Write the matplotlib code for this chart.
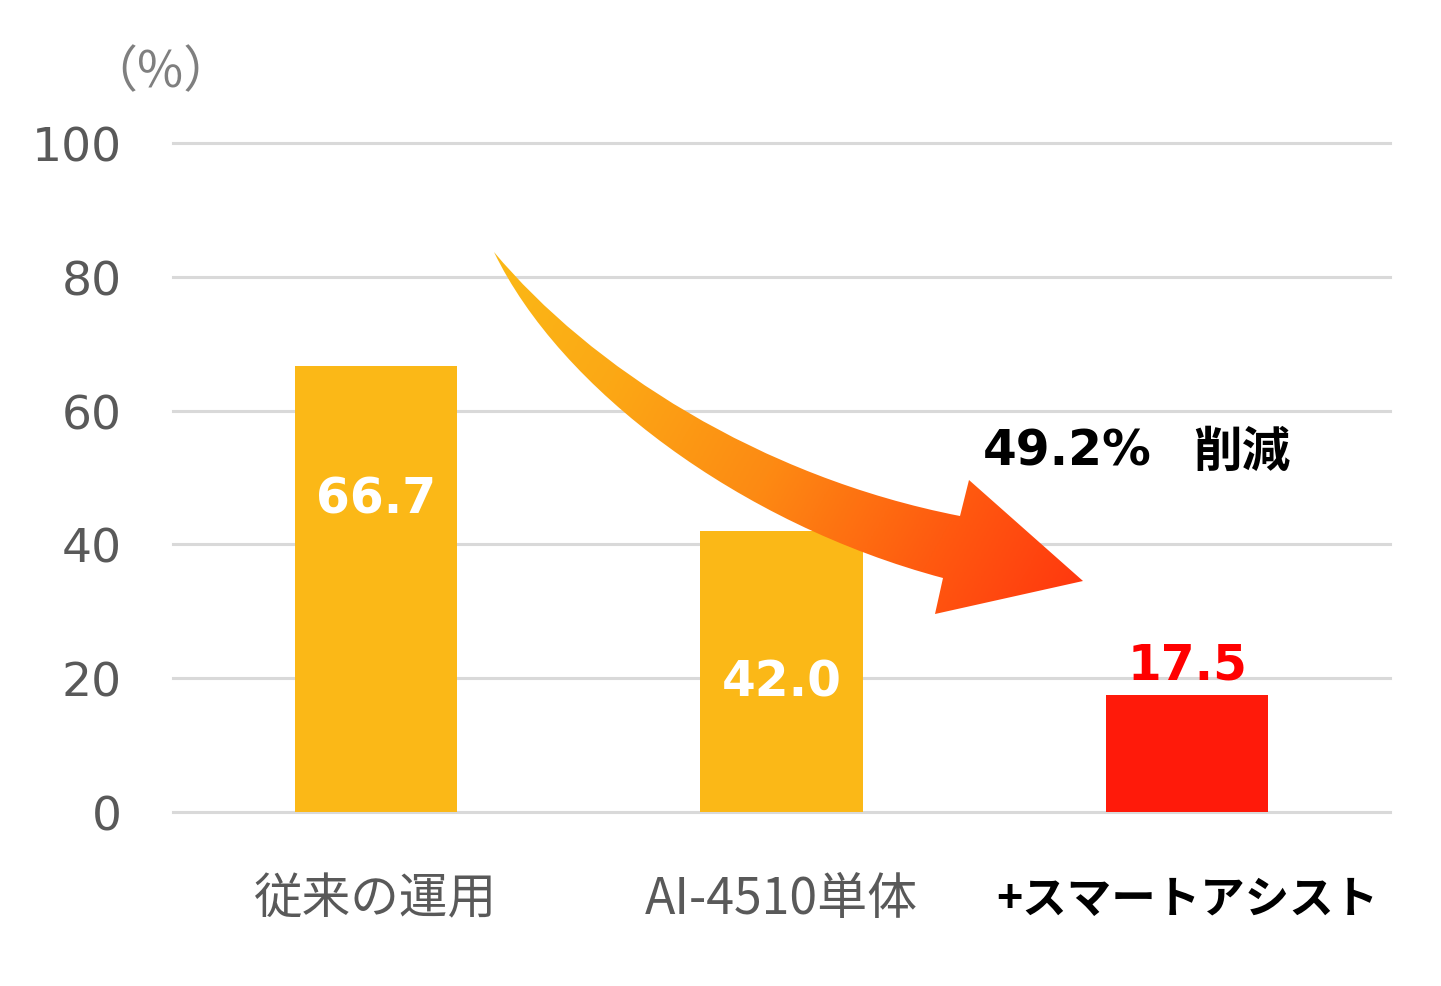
import matplotlib
matplotlib.use("Agg")
import matplotlib.pyplot as plt
import numpy as np
from matplotlib.path import Path
from matplotlib.patches import PathPatch
from matplotlib.colors import LinearSegmentedColormap

# ---- data ----
categories = ["従来の運用", "AI-4510単体", "+スマートアシスト"]
values = [66.7, 42.0, 17.5]
value_labels = ["66.7", "42.0", "17.5"]
label_y = [46.8, 19.5, 22.0]
bar_colors = ["#FBB817", "#FBB817", "#FF1A0A"]
yticks = [0, 20, 40, 60, 80, 100]
reduction_text = "49.2%"
reduction_word = "削減"
unit_text = "（%）"

W, H = 1441, 987
fig = plt.figure(figsize=(W / 100, H / 100), dpi=100)
fig.patch.set_facecolor("white")

ax = fig.add_axes([173 / W, 1 - 813 / H, (1390 - 173) / W, (813 - 144) / H])
x = np.arange(len(categories))
ax.bar(x, values, width=0.40, color=bar_colors, zorder=3)
ax.set_xlim(-0.5, 2.5)
ax.set_ylim(0, 100)
for s in ax.spines.values():
    s.set_visible(False)
ax.set_yticks(yticks)
ax.set_yticklabels([str(v) for v in yticks], fontsize=34, color="#595959",
                   family="DejaVu Sans")
ax.tick_params(axis="y", length=0, pad=37)
ax.set_xticks([])
for yv in yticks:
    ax.axhline(yv, color="#D9D9D9", lw=2.2, zorder=1, clip_on=False)

cjk = ["Noto Sans CJK JP", "DejaVu Sans"]
label_styles = [dict(color="#595959", fontweight="normal", fontsize=35),
                dict(color="#595959", fontweight="normal", fontsize=36),
                dict(color="black", fontweight="bold", fontsize=32)]
for i, (c, st) in enumerate(zip(categories, label_styles)):
    ax.text(x[i], -87 / 669, c, transform=ax.get_xaxis_transform(),
            ha="center", va="center", family=cjk, **st)

val_colors = ["white", "white", "#FF0000"]
for i in range(len(values)):
    ax.text(x[i], label_y[i], value_labels[i], ha="center", va="center",
            fontsize=35, fontweight="bold", color=val_colors[i],
            family="DejaVu Sans", zorder=5)

# ---- overlay in pixel coordinates for decoration ----
ov = fig.add_axes([0, 0, 1, 1])
ov.set_xlim(0, W)
ov.set_ylim(H, 0)
ov.axis("off")
ov.patch.set_alpha(0)

verts = [(494, 253),
         (590, 368), (760, 478), (960, 517),
         (969, 481), (1083, 582), (935, 615), (943, 579),
         (740, 525), (560, 390), (494, 253),
         (494, 253)]
codes = [Path.MOVETO,
         Path.CURVE4, Path.CURVE4, Path.CURVE4,
         Path.LINETO, Path.LINETO, Path.LINETO, Path.LINETO,
         Path.CURVE4, Path.CURVE4, Path.CURVE4,
         Path.CLOSEPOLY]
path = Path(verts, codes)
patch = PathPatch(path, facecolor="none", edgecolor="none")
ov.add_patch(patch)

cmap = LinearSegmentedColormap.from_list(
    "arr", ["#FBBB16", "#FCA815", "#FD8A13", "#FF5A10", "#FF300E"])
gx0, gx1, gy0, gy1 = 480, 1100, 240, 630
xx, yy = np.meshgrid(np.linspace(gx0, gx1, 400), np.linspace(gy0, gy1, 300))
d = np.array([1083 - 494, 582 - 253], dtype=float)
d /= np.linalg.norm(d)
t = ((xx - 494) * d[0] + (yy - 253) * d[1])
t = (t - t.min()) / (t.max() - t.min())
im = ov.imshow(t, cmap=cmap, extent=[gx0, gx1, gy1, gy0], origin="upper",
               interpolation="bilinear", aspect="auto", zorder=4)
im.set_clip_path(patch)
ov.set_xlim(0, W)
ov.set_ylim(H, 0)

ov.text(983, 452, reduction_text, ha="left", va="center", fontsize=35,
        fontweight="bold", color="black", family="DejaVu Sans")
ov.text(1193, 452, reduction_word, ha="left", va="center", fontsize=35,
        fontweight="bold", color="black", family=cjk)
ov.text(160, 73, unit_text, ha="center", va="center", fontsize=36,
        color="#7F7F7F", family=cjk)

fig.savefig("out.png", dpi=100, facecolor="white")
